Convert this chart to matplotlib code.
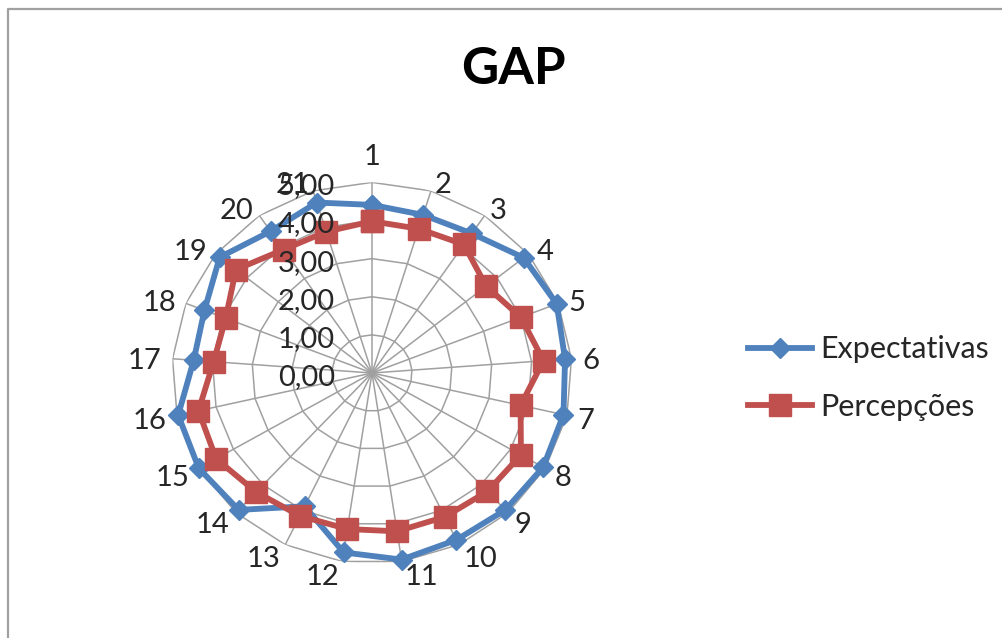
import numpy as np
import matplotlib.pyplot as plt
from matplotlib.lines import Line2D
from matplotlib.transforms import offset_copy

plt.rcParams['font.family'] = ['Lato', 'DejaVu Sans']

# data
categories = ['1', '2', '3', '4', '5', '6', '7', '8', '9', '10', '11',
              '12', '13', '14', '15', '16', '17', '18', '19', '20', '21']
expectativas = [4.41, 4.34, 4.43, 4.85, 4.96, 4.84, 4.91, 4.94, 4.90, 4.86, 4.95,
                4.76, 3.88, 4.90, 5.00, 4.97, 4.47, 4.50, 4.87, 4.50, 4.68]
percepcoes = [3.98, 3.96, 4.08, 3.65, 4.00, 4.30, 3.81, 4.30, 4.24, 4.19, 4.20,
              4.14, 4.16, 4.26, 4.50, 4.45, 3.97, 3.93, 4.35, 3.92, 3.88]
levels = [0, 1, 2, 3, 4, 5]
level_labels = ['0,00', '1,00', '2,00', '3,00', '4,00', '5,00']

blue = '#4F81BD'
red = '#C0504D'
grid_c = '#A0A0A0'
txt_c = '#262626'

fig = plt.figure(figsize=(10.03, 6.38), dpi=100)
fig.patch.set_facecolor('white')

# chart area border (left and top edges visible)
fig.add_artist(Line2D([8/1003, 8/1003, 1.0], [0.0, 1 - 9/638, 1 - 9/638],
                      transform=fig.transFigure, color='#A0A0A0', lw=1.6))

fig.text(513/1003, 1 - 69/638, 'GAP', ha='center', va='center',
         fontsize=37, fontweight='bold', color='black')

ax = fig.add_axes([172/1003, 74.4/638, 400/1003, 381.2/638], projection='polar')
ax.set_aspect('auto')
ax.set_theta_zero_location('N')
ax.set_theta_direction(-1)

n = len(categories)
angles = np.arange(n) * 2 * np.pi / n
closed = np.append(angles, angles[0])

ax.set_ylim(0, levels[-1])
ax.set_xticks(angles)
ax.set_xticklabels([])
ax.set_yticks(levels)
ax.set_yticklabels([])
ax.yaxis.grid(False)
ax.xaxis.grid(True, color=grid_c, lw=1.1)
ax.tick_params(length=0)
ax.spines['polar'].set_visible(False)

# polygon rings like Excel radar
for v in levels[1:]:
    ax.plot(closed, [v] * (n + 1), color=grid_c, lw=1.1, zorder=1)

# value labels left of the first spoke
for v, lbl in zip(levels, level_labels):
    tr = offset_copy(ax.transData, fig=fig, x=-37, y=-4, units='dots')
    ax.text(0, v, lbl, transform=tr, ha='right', va='center',
            fontsize=21, color=txt_c, zorder=5)

# category labels around the outside
for a, lbl in zip(angles, categories):
    ux, uy = np.sin(a), np.cos(a)
    if abs(ux) < 0.05:
        ha, ox, oy = 'center', 0, 28 if uy > 0 else -28
    else:
        gap = 3 + 8 * ux ** 2
        ha = 'left' if ux > 0 else 'right'
        ox = gap if ux > 0 else -gap
        oy = 9 * uy if uy > 0 else 13 * uy
    tr = offset_copy(ax.transData, fig=fig, x=ox, y=oy - 3, units='dots')
    ax.text(a, levels[-1], lbl, transform=tr, ha=ha, va='center',
            fontsize=21, color=txt_c)

ax.plot(closed, expectativas + expectativas[:1], color=blue, lw=4.2,
        marker='D', markersize=10, label='Expectativas', zorder=3, clip_on=False)
ax.plot(closed, percepcoes + percepcoes[:1], color=red, lw=4.2,
        marker='s', markersize=16, label='Percepções', zorder=4, clip_on=False)

fig.legend(loc='center left', bbox_to_anchor=(748/1003, 1 - 378/638),
           frameon=False, fontsize=22, handlelength=2.1, handletextpad=0.25,
           labelspacing=0.95, borderpad=0, borderaxespad=0, labelcolor=txt_c)

fig.savefig('out.png', dpi=100, facecolor='white')
